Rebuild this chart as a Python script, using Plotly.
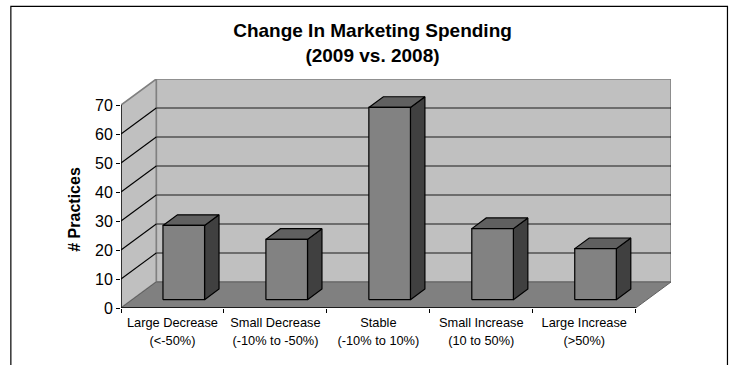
import plotly.graph_objects as go

# Survey responses per spending-change bucket
line_one = ["Large Decrease", "Small Decrease", "Stable", "Small Increase", "Large Increase"]
line_two = ["(<-50%)", "(-10% to -50%)", "(-10% to 10%)", "(10 to 50%)", "(>50%)"]
practices = [25.6, 20.8, 66.3, 24.5, 17.6]
value_ticks = [0, 10, 20, 30, 40, 50, 60, 70]
boundaries = [0, 1, 2, 3, 4, 5]

W, H = 735, 365
LEFT, RIGHT, TOP, BOTTOM = 120.7, 671.0, 78.7, 307.7
PX_PER_CAT = 103.0
PX_PER_VAL = 2.9
# Oblique depth vector of the box, in axis units
DX = 35.3 / PX_PER_CAT
DY = 26.0 / PX_PER_VAL
YMAX = 70 + DY
XMAX = 5 + DX
BAR_W = 0.404
Z0, Z1 = 0.32, 0.73

WALL, FLOOR, FRONT, SIDE, ROOF = "#c0c0c0", "#808080", "#828282", "#404040", "#606060"


def project(x, y, z):
    """Oblique projection of a box coordinate onto the flat axes."""
    return x + z * DX, y + z * DY


def poly(corners, fill, line_color="black", line_width=1.2):
    pts = [project(*c) for c in corners]
    pts.append(pts[0])
    return go.Scatter(
        x=[p[0] for p in pts], y=[p[1] for p in pts], mode="lines",
        fill="toself", fillcolor=fill,
        line=dict(color=line_color, width=line_width),
        hoverinfo="skip", showlegend=False, cliponaxis=False,
    )


def seg(a, b, color, width):
    pa, pb = project(*a), project(*b)
    return go.Scatter(
        x=[pa[0], pb[0]], y=[pa[1], pb[1]], mode="lines",
        line=dict(color=color, width=width),
        hoverinfo="skip", showlegend=False, cliponaxis=False,
    )


fig = go.Figure()

# Back wall, side wall and floor
fig.add_trace(poly([(0, 0, 1), (5, 0, 1), (5, 70, 1), (0, 70, 1)], WALL, "#808080", 1.6))
fig.add_trace(poly([(0, 0, 0), (0, 0, 1), (0, 70, 1), (0, 70, 0)], WALL, "#808080", 1.6))
fig.add_trace(poly([(0, 0, 0), (5, 0, 0), (5, 0, 1), (0, 0, 1)], FLOOR, "#606060", 1.0))

# Gridlines run along the side wall, then across the back wall
for v in value_ticks[1:-1]:
    fig.add_trace(seg((0, v, 0), (0, v, 1), "black", 1.1))
    fig.add_trace(seg((0, v, 1), (5, v, 1), "#1a1a1a", 1.2))

# Bars: front, side and top faces
for i, v in enumerate(practices):
    x0 = i + 0.5 - BAR_W / 2
    x1 = i + 0.5 + BAR_W / 2
    fig.add_trace(poly([(x1, 0, Z0), (x1, 0, Z1), (x1, v, Z1), (x1, v, Z0)], SIDE))
    fig.add_trace(poly([(x0, v, Z0), (x1, v, Z0), (x1, v, Z1), (x0, v, Z1)], ROOF))
    fig.add_trace(poly([(x0, 0, Z0), (x1, 0, Z0), (x1, v, Z0), (x0, v, Z0)], FRONT))

# Front axis lines
fig.add_trace(seg((0, 0, 0), (0, 70, 0), "black", 1.3))
fig.add_trace(seg((0, 0, 0), (5, 0, 0), "black", 1.3))

# Second row of category labels sits on an overlaid axis
fig.add_trace(go.Scatter(x=[0], y=[0], xaxis="x2", mode="none", showlegend=False, hoverinfo="skip"))

label_font = dict(family="Liberation Sans", size=12.8, color="black")
fig.update_layout(
    width=W, height=H,
    margin=dict(l=LEFT, r=W - RIGHT, t=TOP, b=H - BOTTOM, pad=0),
    paper_bgcolor="white", plot_bgcolor="white",
    showlegend=False,
    title=dict(
        text="<b>Change In Marketing Spending<br>(2009 vs. 2008)</b>",
        x=372.5 / W, xanchor="center", y=1 - 37 / H, yanchor="top",
        font=dict(family="Liberation Sans", size=19, color="black"),
    ),
    xaxis=dict(
        range=[0, XMAX], tickmode="array",
        tickvals=[i + 0.5 for i in range(5)], ticktext=line_one,
        ticks="", showgrid=False, zeroline=False, showline=False,
        tickfont=label_font, ticklabelstandoff=5,
        minor=dict(tickmode="array", tickvals=boundaries, ticks="outside",
                   ticklen=4, tickwidth=1, tickcolor="black", showgrid=False),
    ),
    xaxis2=dict(
        range=[0, XMAX], overlaying="x", side="bottom", tickmode="array",
        tickvals=[i + 0.5 for i in range(5)], ticktext=line_two,
        ticks="", showgrid=False, zeroline=False, showline=False,
        tickfont=label_font, ticklabelstandoff=23,
    ),
    yaxis=dict(
        range=[0, YMAX], tickmode="array", tickvals=value_ticks,
        ticks="outside", ticklen=4, tickwidth=1, tickcolor="black",
        showgrid=False, zeroline=False, showline=False,
        tickfont=dict(family="Liberation Sans", size=16, color="black"),
    ),
    # Value-axis caption, centred on the lower part of the scale
    annotations=[
        dict(text="<b># Practices</b>", textangle=-90, showarrow=False,
             xref="paper", x=(74 - LEFT) / (RIGHT - LEFT), xanchor="center",
             yref="y", y=34, yanchor="middle",
             font=dict(family="Liberation Sans", size=16, color="black")),
    ],
    # Chart frame, open along the bottom edge
    shapes=[
        dict(type="path", xref="paper", yref="paper", layer="above",
             path=f"M {(10.5 - LEFT) / (RIGHT - LEFT)} {(BOTTOM - 365) / (BOTTOM - TOP)} "
                  f"L {(10.5 - LEFT) / (RIGHT - LEFT)} {(BOTTOM - 6) / (BOTTOM - TOP)} "
                  f"L {(727.5 - LEFT) / (RIGHT - LEFT)} {(BOTTOM - 6) / (BOTTOM - TOP)} "
                  f"L {(727.5 - LEFT) / (RIGHT - LEFT)} {(BOTTOM - 365) / (BOTTOM - TOP)}",
             line=dict(color="black", width=1.2)),
    ],
)

fig.write_html("out.html", config=dict(displayModeBar=False))
